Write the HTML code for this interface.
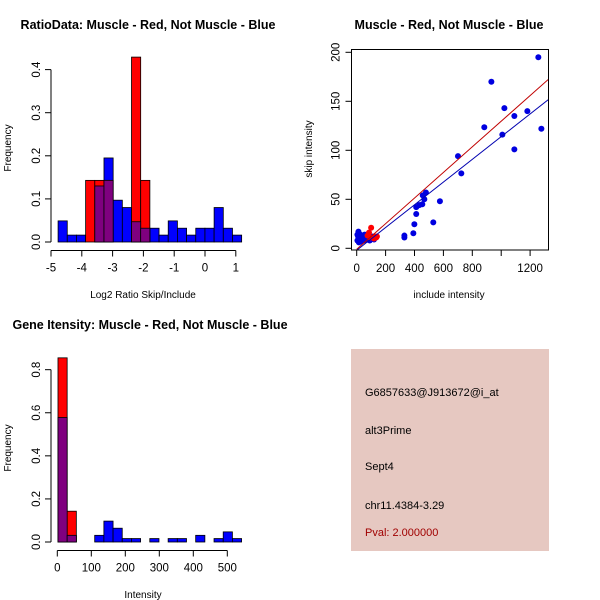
<!DOCTYPE html>
<html><head><meta charset="utf-8"><style>
body{margin:0;background:#fff}
svg{display:block;font-family:"Liberation Sans",sans-serif}
</style></head><body>
<svg id="c" width="600" height="600" xmlns="http://www.w3.org/2000/svg">
<rect width="600" height="600" fill="#fff"/>
<rect x="351" y="349" width="198" height="202" fill="#e6c8c1"/>
<text x="365" y="396" font-size="11">G6857633@J913672@i_at</text>
<text x="365" y="434" font-size="11">alt3Prime</text>
<text x="365" y="470" font-size="11">Sept4</text>
<text x="365" y="509" font-size="11">chr11.4384-3.29</text>
<text x="365" y="536" font-size="11" fill="#a00000">Pval: 2.000000</text>
</svg>
<script>
// ---- Histogram 1 data (log2 ratio) ----
const h1Start=-4.77, h1Width=0.298;
const h1Blue=[0.049,0.016,0.016,0,0.13,0.195,0.097,0.08,0.047,0.032,0.032,0.016,0.049,0.032,0.016,0.032,0.032,0.08,0.032,0.016];
const h1Red=[0,0,0,0.143,0.143,0.143,0,0,0.429,0.143,0,0,0,0,0,0,0,0,0,0];
const h1XTicks=[-5,-4,-3,-2,-1,0,1];
const h1YTicks=[0,0.1,0.2,0.3,0.4];
// ---- Histogram 2 data (intensity) ----
const h2Start=2, h2Width=27;
const h2Blue=[0.578,0.031,0,0,0.031,0.097,0.064,0.016,0.016,0,0.016,0,0.016,0.016,0,0.031,0,0.016,0.047,0.016];
const h2Red=[0.855,0.143,0,0,0,0,0,0,0,0,0,0,0,0,0,0,0,0,0,0];
const h2XTicks=[0,100,200,300,400,500];
const h2YTicks=[0,0.2,0.4,0.6,0.8];
// ---- Scatter data ----
const blueX=[1257,932,1022,1091,1181,1278,883,1008,1091,701,724,576,530,479,457,468,454,433,412,412,399,392,330,330,5,10,12,15,20,25,30,40,50,55,60,70,80,90,100,110,120,5,15,35,45];
const blueY=[195,170,143,135,140,122,123.5,116,101,94,76.5,48,26.5,57,54,50,45,44,42,35,24.5,15.3,13,11,8,12,17,6,10,14,9,12,8,14,11,9,13,8,10,12,9,14,11,7,10];
const redX=[100,85,75,125,135,140,120,95];
const redY=[21,16,13,12,11,12,10,11];
const fitIntercept=[-1,-2];   // red, blue
const fitSlope=[0.1307,0.1159];
const scXTicks=[0,200,400,600,800,1000,1200];
const scXLabels=["0","200","400","600","800","","1200"];
const scYTicks=[0,50,100,150,200];

const svg=document.getElementById('c');
const NS='http://www.w3.org/2000/svg';
function el(tag,attrs,parent){const e=document.createElementNS(NS,tag);for(const k in attrs)e.setAttribute(k,attrs[k]);(parent||svg).appendChild(e);return e;}
function txt(s,x,y,size,opts,parent){const t=el('text',Object.assign({x:x,y:y,'font-size':size,'text-anchor':'middle'},opts||{}),parent);t.textContent=s;return t;}

function histogram(g,cfg){
  const sx=v=>cfg.x0+(v-cfg.xmin)*cfg.kx, sy=v=>cfg.y0-v*cfg.ky;
  const n=cfg.blue.length;
  for(let i=0;i<n;i++){
    const a=cfg.start+i*cfg.width, x1=sx(a), x2=sx(a+cfg.width);
    if(cfg.blue[i]>0){const r=el('rect',{x:x1,y:sy(cfg.blue[i]),width:x2-x1,height:cfg.blue[i]*cfg.ky,fill:'#0000ff',stroke:'#000','stroke-width':0.8},g);
      
      }
  }
  for(let i=0;i<n;i++){
    const a=cfg.start+i*cfg.width, x1=sx(a), x2=sx(a+cfg.width);
    if(cfg.red[i]>0){const r=el('rect',{x:x1,y:sy(cfg.red[i]),width:x2-x1,height:cfg.red[i]*cfg.ky,fill:'#ff0000',stroke:'#000','stroke-width':0.8},g);
      
      }
  }
  for(let i=0;i<n;i++){
    const m=Math.min(cfg.red[i],cfg.blue[i]);
    const a=cfg.start+i*cfg.width, x1=sx(a), x2=sx(a+cfg.width);
    if(m>0){const r=el('rect',{x:x1,y:sy(m),width:x2-x1,height:m*cfg.ky,fill:'#7f007f',stroke:'#000','stroke-width':0.8},g);
      
      }
  }
  const ay=cfg.axisY;
  el('line',{x1:sx(cfg.xt[0]),x2:sx(cfg.xt[cfg.xt.length-1]),y1:ay,y2:ay,stroke:'#000'},g);
  cfg.xt.forEach(v=>{el('line',{x1:sx(v),x2:sx(v),y1:ay,y2:ay+6,stroke:'#000'},g);txt(String(v),sx(v),ay+21,11.5,{},g);});
  const ax=cfg.axisX;
  el('line',{x1:ax,x2:ax,y1:sy(cfg.yt[0]),y2:sy(cfg.yt[cfg.yt.length-1]),stroke:'#000'},g);
  cfg.yt.forEach(v=>{el('line',{x1:ax,x2:ax-6,y1:sy(v),y2:sy(v),stroke:'#000'},g);
    txt(v.toFixed(1),0,0,11.5,{transform:`translate(${ax-11},${sy(v)}) rotate(-90)`},g);});
}

const g1=el('g',{});  
histogram(g1,{x0:51,xmin:-5,kx:30.8,y0:242,ky:431,start:h1Start,width:h1Width,blue:h1Blue,red:h1Red,xt:h1XTicks,yt:h1YTicks,axisY:250.5,axisX:51});
const t1=txt('RatioData: Muscle - Red, Not Muscle - Blue',148,29,12.5,{'font-weight':'bold'});
const xl1=txt('Log2 Ratio Skip/Include',143,298,10);
const yl1=txt('Frequency',0,0,10,{transform:'translate(11,148) rotate(-90)'});

const g2=el('g',{});  
histogram(g2,{x0:57.3,xmin:0,kx:0.34,y0:542,ky:215.4,start:h2Start,width:h2Width,blue:h2Blue,red:h2Red,xt:h2XTicks,yt:h2YTicks,axisY:550.5,axisX:51});
const t3=txt('Gene Itensity: Muscle - Red, Not Muscle - Blue',150,329,12.5,{'font-weight':'bold'});
const xl3=txt('Intensity',143,598,10);
const yl3=txt('Frequency',0,0,10,{transform:'translate(11,448) rotate(-90)'});

const gs=el('g',{});  
const SX=v=>356.7+v*0.1445, SY=v=>248.3-v*0.98;
const bx={l:351.5,t:49.5,r:548.5,b:250};
el('defs',{},gs).innerHTML=`<clipPath id="cp"><rect x="${bx.l}" y="${bx.t}" width="${bx.r-bx.l}" height="${bx.b-bx.t}"/></clipPath>`;
blueX.forEach((v,i)=>{const c=el('circle',{cx:SX(v),cy:SY(blueY[i]),r:3,fill:'#0000e0'},gs);
  
  });
redX.forEach((v,i)=>{const c=el('circle',{cx:SX(v),cy:SY(redY[i]),r:3,fill:'#ff0000'},gs);
  
  });
const lineCols=['#c00000','#0000b0'];
fitSlope.forEach((s,i)=>{const x0=0,x1=1400;const l=el('line',{x1:SX(x0),y1:SY(fitIntercept[i]+s*x0),x2:SX(x1),y2:SY(fitIntercept[i]+s*x1),stroke:lineCols[i],'stroke-width':1,'clip-path':'url(#cp)'},gs);
  
  });
el('rect',{x:bx.l,y:bx.t,width:bx.r-bx.l,height:bx.b-bx.t,fill:'none',stroke:'#000'},gs);
scXTicks.forEach((v,i)=>{el('line',{x1:SX(v),x2:SX(v),y1:bx.b,y2:bx.b+6,stroke:'#000'},gs);if(scXLabels[i])txt(scXLabels[i],SX(v),bx.b+22,11.5,{},gs);});
scYTicks.forEach(v=>{el('line',{x1:bx.l,x2:bx.l-6,y1:SY(v),y2:SY(v),stroke:'#000'},gs);txt(String(v),0,0,11.5,{transform:`translate(${bx.l-12},${SY(v)}) rotate(-90)`},gs);});
const t2=txt('Muscle - Red, Not Muscle - Blue',449,29,12.5,{'font-weight':'bold'});
const xl2=txt('include intensity',449,298,10);
const yl2=txt('skip intensity',0,0,10,{transform:'translate(312,149) rotate(-90)'});
</script>
</body></html>
